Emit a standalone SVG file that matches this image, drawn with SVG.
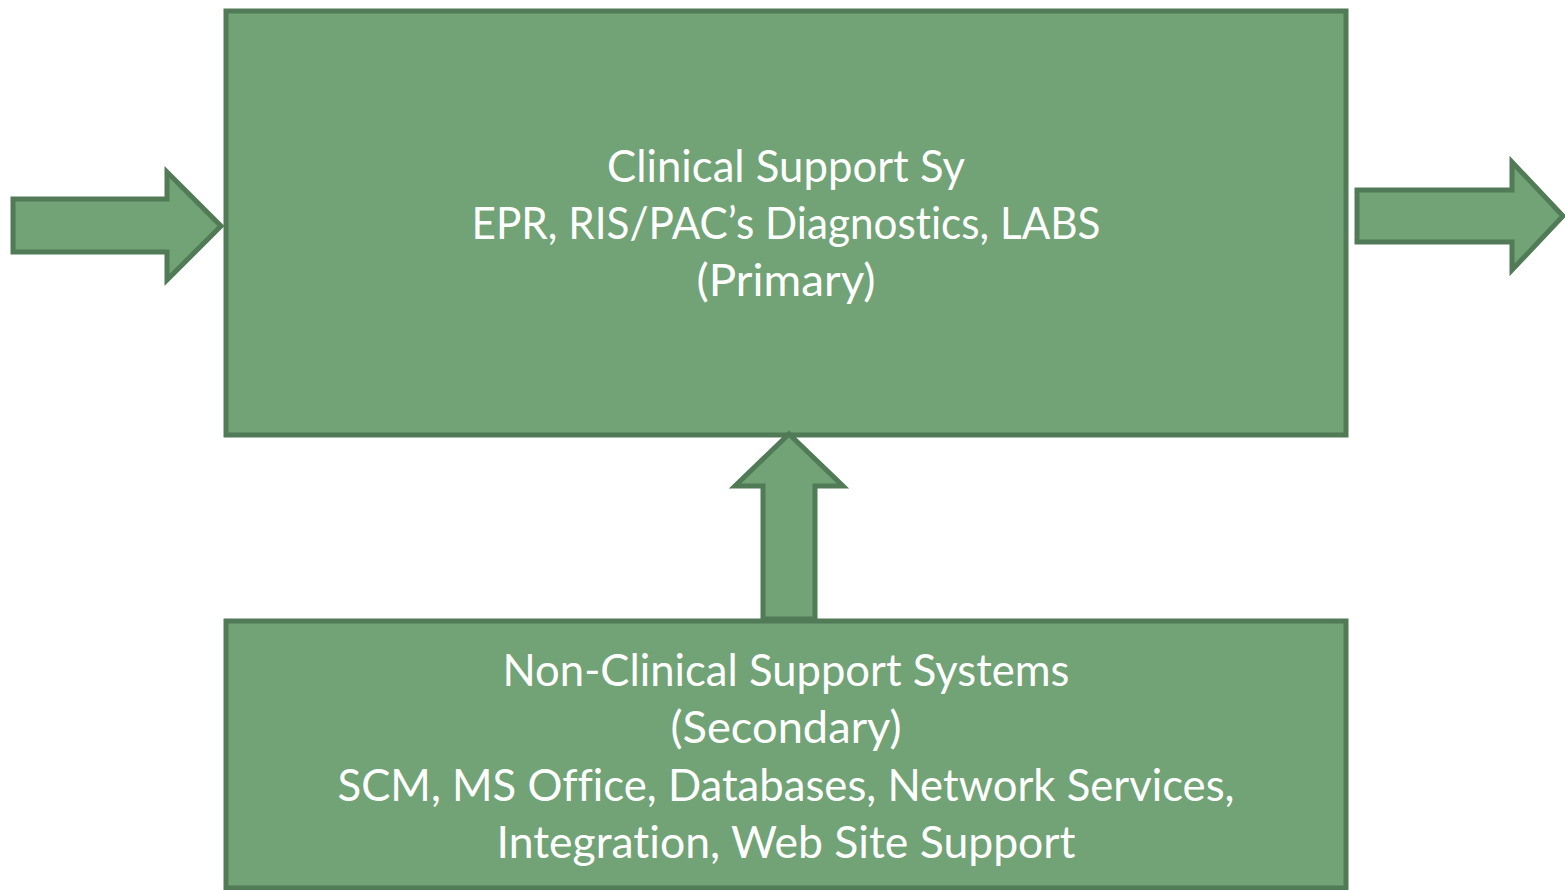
<svg xmlns="http://www.w3.org/2000/svg" width="1565" height="890" viewBox="0 0 1565 890">
<style>
.shape{fill:#71a376;stroke:#517a57;stroke-width:5;stroke-linejoin:miter}
.lbl{font-family:Lato,"Open Sans","Liberation Sans",sans-serif;font-size:43.5px;fill:#ffffff;text-anchor:middle;font-variant-ligatures:none}
</style>
<rect width="1565" height="890" fill="#ffffff"/>
<g id="primary">
<rect class="shape" x="226" y="11" width="1120" height="424"/>
<text class="lbl" x="786" y="182" textLength="358" lengthAdjust="spacingAndGlyphs">Clinical Support Sy</text>
<text class="lbl" x="786" y="239" textLength="629" lengthAdjust="spacingAndGlyphs">EPR, RIS/PAC’s Diagnostics, LABS</text>
<text class="lbl" x="786" y="296" textLength="179" lengthAdjust="spacingAndGlyphs">(Primary)</text>
</g>
<g id="secondary">
<rect class="shape" x="226" y="621" width="1120" height="267"/>
<text class="lbl" x="786" y="686" textLength="567" lengthAdjust="spacingAndGlyphs">Non-Clinical Support Systems</text>
<text class="lbl" x="786" y="743" textLength="231" lengthAdjust="spacingAndGlyphs">(Secondary)</text>
<text class="lbl" x="786" y="801" textLength="897" lengthAdjust="spacingAndGlyphs">SCM, MS Office, Databases, Network Services,</text>
<text class="lbl" x="786" y="858" textLength="579" lengthAdjust="spacingAndGlyphs">Integration, Web Site Support</text>
</g>
<g id="connectors">
<polygon class="shape" points="13,199 167,199 167,172 221,226 167,280 167,252 13,252"/>
<polygon class="shape" points="1357,190 1512,190 1512,162 1563,216 1512,270 1512,242 1357,242"/>
<polygon class="shape" points="763,619 763,486 735,486 789,434 843,486 815,486 815,619"/>
</g>
</svg>
